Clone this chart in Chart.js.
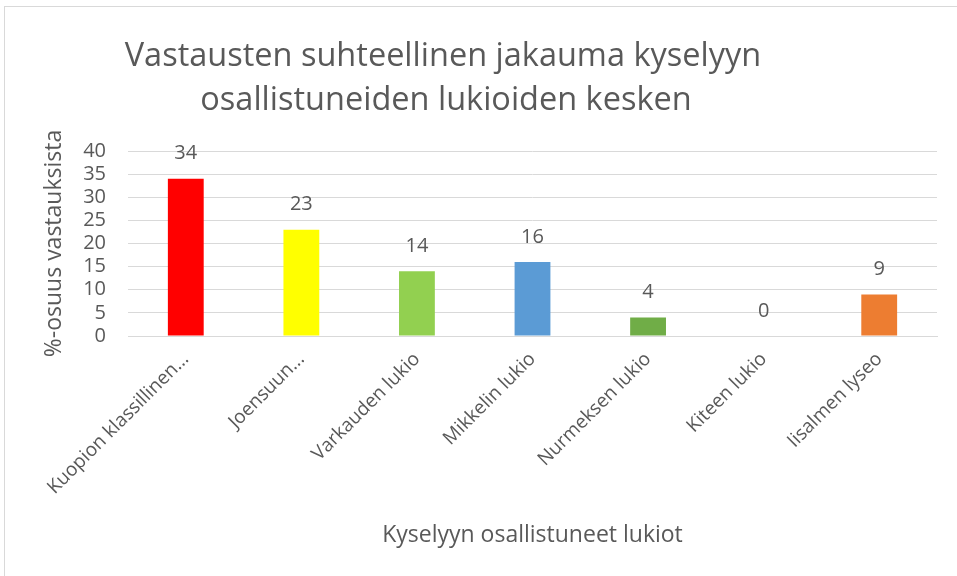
<!DOCTYPE html>
<html>
<head>
<meta charset="utf-8">
<script src="https://cdn.jsdelivr.net/npm/chart.js@4.4.0/dist/chart.umd.min.js"></script>
<style>
  html, body { margin: 0; padding: 0; background: #fff; overflow: hidden; }
  #wrap { position: relative; width: 957px; height: 576px; }
  #frame { position: absolute; left: 4px; top: 6px; width: 1000px; height: 1000px;
           border-left: 1px solid #d9d9d9; border-top: 1px solid #d9d9d9; pointer-events: none; }
</style>
</head>
<body>
<div id="wrap">
  <canvas id="myChart" width="957" height="576"></canvas>
  <div id="frame"></div>
</div>
<script>
const lukiot = ['Kuopion klassillinen...', 'Joensuun...', 'Varkauden lukio', 'Mikkelin lukio',
                'Nurmeksen lukio', 'Kiteen lukio', 'Iisalmen lyseo']
const osuudet = [34, 23, 14, 16, 4, 0, 9]
const varit = ['#FF0000', '#FFFF00', '#92D050', '#5B9BD5', '#70AD47', '#A5A5A5', '#ED7D31']
const otsikko = ['Vastausten suhteellinen jakauma kyselyyn', 'osallistuneiden lukioiden kesken']

const harmaa = '#595959'
const fontti = 'Open Sans'

// otsikko piirretään itse, jotta sen saa samaan kohtaan kuin kuvassa
const titlePlugin = {
    id: 'ownTitle',
    afterDraw(chart) {
        const c = chart.ctx
        c.save()
        c.fillStyle = harmaa
        c.font = '32.5px "' + fontti + '"'
        c.textAlign = 'center'
        c.textBaseline = 'middle'
        c.fillText(otsikko[0], 443, 57)
        c.fillText(otsikko[1], 446, 101)
        c.restore()
    }
}

// arvot pylväiden päälle
const valuePlugin = {
    id: 'values',
    afterDatasetsDraw(chart) {
        const c = chart.ctx
        const meta = chart.getDatasetMeta(0)
        c.save()
        c.fillStyle = harmaa
        c.font = '20px "' + fontti + '"'
        c.textAlign = 'center'
        c.textBaseline = 'middle'
        meta.data.forEach((bar, i) => {
            c.fillText(osuudet[i], bar.x, bar.y - 25)
        })
        c.restore()
    }
}

const ctx = document.getElementById('myChart').getContext('2d')
const myChart = new Chart(ctx, {
    type: 'bar',
    data: {
        labels: lukiot,
        datasets: [{
            data: osuudet,
            backgroundColor: varit,
            barPercentage: 0.31,
            categoryPercentage: 1.0
        }]
    },
    options: {
        responsive: false,
        animation: false,
        devicePixelRatio: 1,
        layout: {
            padding: { top: 151, right: 20, left: 36, bottom: 27 }
        },
        plugins: {
            legend: { display: false },
            tooltip: { enabled: false }
        },
        scales: {
            x: {
                grid: { display: false },
                border: { color: '#d9d9d9' },
                ticks: {
                    color: harmaa,
                    font: { family: fontti, size: 19 },
                    minRotation: 45,
                    maxRotation: 45,
                    padding: 4
                },
                // vino teksti saa mennä vasemmalle reunaan asti, akselin korkeus kiinteä
                afterFit: (scale) => {
                    scale.paddingLeft = 0
                    scale.height = 213
                },
                title: {
                    display: true,
                    text: 'Kyselyyn osallistuneet lukiot',
                    color: harmaa,
                    font: { family: fontti, size: 23 },
                    padding: { top: 10, bottom: 0 }
                }
            },
            y: {
                min: 0,
                max: 40,
                grid: { color: '#d9d9d9', drawTicks: false },
                border: { display: false },
                afterFit: (scale) => { scale.width = 92 },
                ticks: {
                    stepSize: 5,
                    autoSkip: false,
                    color: harmaa,
                    font: { family: fontti, size: 20 },
                    padding: 22
                },
                title: {
                    display: true,
                    text: '%-osuus vastauksista',
                    color: harmaa,
                    font: { family: fontti, size: 23 },
                    padding: { top: 5, bottom: 14 }
                }
            }
        }
    },
    plugins: [titlePlugin, valuePlugin]
})
</script>
</body>
</html>
